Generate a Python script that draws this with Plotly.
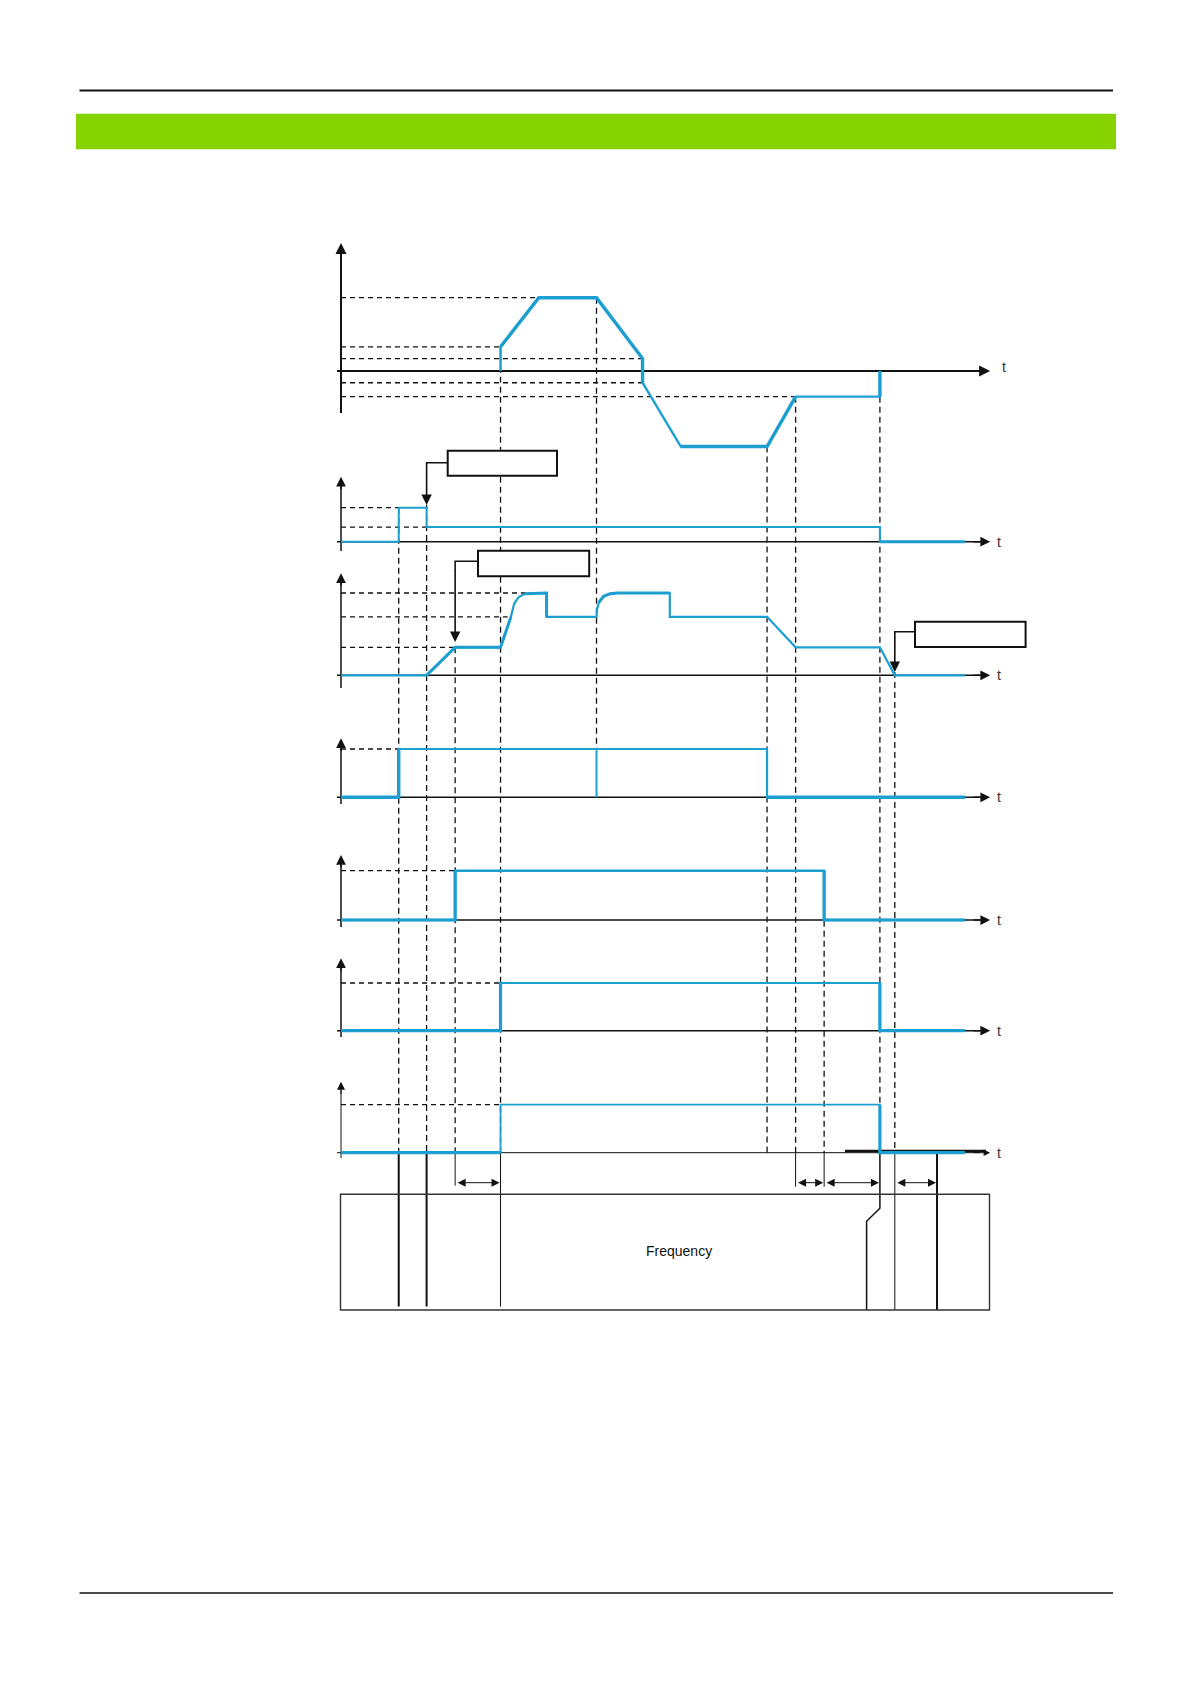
import plotly.graph_objects as go

W, H = 1190, 1684
BLUE = "#1c9fd0"
INK = "#111111"

# ---------------- event times (time units: 0 = vertical axes, 100 = arrow tip)
t1, t2, t3, t4 = 8.9, 13.2, 17.6, 24.6
t5, t6, t7, t8 = 39.4, 50.7, 65.7, 70.1
t9, t10, t11, t12 = 74.5, 83.1, 85.4, 91.9
t_end = 96.2

# ---------------- panel 1 : speed (positive / negative)
speed_t = [t4, t4, 30.5, t5, 46.5, 46.5, 52.4, t7, t8, t10, t10]
speed_v = [0, 33, 100, 100, 17, -16, -103, -103, -35, -35, 0]
speed_levels = [100, 33, 17, -16, -35]
speed_level_ends = [30.5, t4, 46.5, 46.5, t8]

# ---------------- panel 2
p2_t = [0, t1, t1, t2, t2, t10, t10, t_end]
p2_v = [0, 0, 100, 100, 43, 43, 0, 0]
p2_levels = [100, 43]
p2_level_ends = [t1, t2]

# ---------------- panel 3
p3_t = [0, t2, t3, t4, 26.2, 26.7, 27.4, 28.4, 30.2, 31.7, 31.7, t5,
        39.5, 39.8, 40.5, 41.5, 42.6, t6, t6, t7, t8, t10, t11, t_end]
p3_v = [0, 0, 34, 34, 71, 87, 95, 99, 100, 100, 71, 71,
        81, 89, 96, 99, 100, 100, 71, 71, 34, 34, 0, 0]
p3_levels = [100, 71, 34]
p3_level_ends = [29.1, 25.7, t3]

# ---------------- panels 4..7 (logic signals)
p4_t = [0, t1, t1, t7, t7, t_end]
p4_v = [0, 0, 100, 100, 0, 0]
p5_t = [0, t3, t3, t9, t9, t_end]
p5_v = [0, 0, 100, 100, 0, 0]
p6_t = [0, t4, t4, t10, t10, t_end]
p6_v = [0, 0, 100, 100, 0, 0]
p7_t = [0, t4, t4, t10, t10, t_end]
p7_v = [0, 0, 100, 100, 0, 0]
logic_level_ends = [t1, t3, t4, t4]

box_label = "Frequency"
axis_label = "t"

# ======================= layout geometry (page pixels) =======================
PX_PER_T = 6.485
X0 = 341.0
# baseline pixel, pixel height of level 100, y-axis top, y-axis bottom
PANELS = [
    (371.0, 73.3, 243.0, 413.0),
    (541.7, 34.0, 476.7, 551.0),
    (675.3, 82.3, 573.3, 688.0),
    (797.3, 48.3, 738.3, 804.0),
    (920.0, 49.3, 855.0, 927.0),
    (1030.7, 47.7, 958.3, 1037.0),
    (1152.7, 48.0, 1081.7, 1158.0),
]


def ypx(k, v):
    B, Hp = PANELS[k][0], PANELS[k][1]
    return B - v * Hp / 100.0


def tx(px):
    return (px - X0) / PX_PER_T


fig = go.Figure()

layout = dict(
    width=W, height=H, autosize=False,
    margin=dict(l=0, r=0, t=0, b=0),
    paper_bgcolor="white", plot_bgcolor="white",
    showlegend=False,
    xaxis=dict(range=[-X0 / PX_PER_T, (W - X0) / PX_PER_T], domain=[0, 1],
               visible=False, fixedrange=True),
    yaxis=dict(range=[H, 0], domain=[0, 1], visible=False, fixedrange=True),
)
for k, (B, Hp, _, _) in enumerate(PANELS):
    layout[f"yaxis{k + 2}"] = dict(
        range=[(B - H) * 100.0 / Hp, B * 100.0 / Hp], domain=[0, 1],
        overlaying="y", visible=False, fixedrange=True)
fig.update_layout(**layout)

DASH = "5px,4px"


def page_line(xs, ys, width=1.2, color=INK, dash=None):
    fig.add_trace(go.Scatter(x=xs, y=ys, yaxis="y", mode="lines",
                             line=dict(color=color, width=width, dash=dash),
                             hoverinfo="skip"))


def panel_line(k, xs, ys, width=2.5, color=BLUE, dash=None):
    fig.add_trace(go.Scatter(x=xs, y=ys, yaxis=f"y{k + 2}", mode="lines",
                             line=dict(color=color, width=width, dash=dash),
                             hoverinfo="skip"))


def signal(k, ts, vs, base_w, thick=(), thick_w=3.4):
    """Draw a signal; 'thick' lists (i, j) index slices drawn heavier."""
    panel_line(k, ts, vs, width=base_w)
    for i, j in thick:
        panel_line(k, ts[i:j], vs[i:j], width=thick_w)


annotations = []


def arrow(x, y, ax, ay, width=1.5, size=1.0, both=False, head=2):
    d = dict(x=x, y=y, ax=ax, ay=ay, xref="x", yref="y", axref="x", ayref="y",
             text="", showarrow=True, arrowhead=head, arrowsize=size,
             arrowwidth=width, arrowcolor=INK, standoff=0, startstandoff=0)
    if both:
        d.update(arrowside="end+start", startarrowhead=head, startarrowsize=size)
    annotations.append(d)


# ---------------- axes (lines as traces beneath the signals, heads as arrows)
for k, (B, Hp, ytop, ybot) in enumerate(PANELS):
    w = 2.0 if k == 0 else (1.0 if k == 6 else 1.5)
    page_line([tx(337.0), tx(980.0)], [B, B], width=w)
    arrow(100.1, B, tx(972.0), B, width=w, size=1.1 if k == 0 else 1.3)
    page_line([0, 0], [ybot, ytop + 8], width=w)
    arrow(0, ytop, 0, ytop + 14, width=w,
          size=1.1 if k == 0 else (1.6 if k == 6 else 1.3))
    annotations.append(dict(
        x=tx(1004.0 if k == 0 else 999.0), y=(B - 4.0 if k == 0 else B),
        xref="x", yref="y", text=axis_label, showarrow=False,
        font=dict(family="Liberation Sans, Arial", size=14, color="#333333")))

# heavy black segment lying on the last time axis
page_line([tx(845.0), tx(986.0)], [1151.0, 1151.0], width=2.6)

# ---------------- dashed horizontal levels (drawn on each panel scale)
level_sets = [
    (0, speed_levels, speed_level_ends),
    (1, p2_levels, p2_level_ends),
    (2, p3_levels, p3_level_ends),
]
for k, lv, ends in level_sets:
    for v, te in zip(lv, ends):
        panel_line(k, [0, te], [v, v], width=1.3, color=INK, dash=DASH)
for k, te in zip([3, 4, 5, 6], logic_level_ends):
    panel_line(k, [0, te], [100, 100], width=1.3, color=INK, dash=DASH)

# ---------------- vertical dashed guides
BASE7 = PANELS[6][0]
guides = [
    (t1, ypx(1, 100), BASE7),
    (t2, 505.0, BASE7),
    (t3, ypx(2, 34), BASE7),
    (t4, ypx(0, 33), BASE7),
    (t5, ypx(0, 100), ypx(3, 100)),
    (t7, ypx(0, -103), BASE7),
    (t8, ypx(0, -35), BASE7),
    (t9, ypx(4, 100), BASE7),
    (t10, ypx(0, -35), BASE7),
    (t11, 672.0, BASE7),
]
for t, ya, yb in guides:
    page_line([t, t], [ya, yb], width=1.3, dash="6px,4px")

# ---------------- signals (thin base + heavier segments as in the drawing)
signal(0, speed_t, speed_v, 2.4, thick=[(1, 6), (6, 9), (9, 11)])
signal(1, p2_t, p2_v, 2.0, thick=[(6, 8)], thick_w=3.0)
signal(2, p3_t, p3_v, 2.2, thick=[(1, 5), (7, 11), (13, 18)], thick_w=3.0)
signal(3, p4_t, p4_v, 2.2, thick=[(0, 3), (4, 6)])
panel_line(3, [t5, t5], [0, 100], width=2.0)
signal(4, p5_t, p5_v, 2.4, thick=[(0, 3), (3, 6)], thick_w=3.2)
signal(5, p6_t, p6_v, 2.0, thick=[(0, 3), (3, 6)], thick_w=3.2)
panel_line(5, p6_t[1:4], p6_v[1:4], width=2.0)
signal(6, p7_t, p7_v, 1.8, thick=[(0, 2), (3, 6)], thick_w=3.2)

# ---------------- callout boxes with their arrows
callouts = [
    # box x0,x1 (px), y0,y1 (px), connector y, arrow time, arrow tip y
    ((447.7, 557.0), (450.7, 475.7), 462.7, t2, 505.0),
    ((478.0, 589.2), (550.7, 576.3), 561.3, t3, 642.0),
    ((915.0, 1025.6), (621.7, 647.0), 631.7, t11, 672.0),
]
shapes = []
for (x0, x1), (y0, y1), yc, ta, tip in callouts:
    shapes.append(dict(type="rect", xref="x", yref="y", x0=tx(x0), x1=tx(x1),
                       y0=y0, y1=y1, line=dict(color=INK, width=2),
                       fillcolor="white", layer="above"))
    page_line([tx(x0), ta, ta], [yc, yc, yc + 10], width=1.6)
    arrow(ta, tip, ta, yc + 8, width=1.6, size=1.3)

# ---------------- bottom frequency box and its time marks
FB_TOP, FB_BOT = 1194.3, 1310.0
shapes.append(dict(type="rect", xref="x", yref="y", x0=tx(340.5), x1=tx(989.5),
                   y0=FB_TOP, y1=FB_BOT, line=dict(color="#333333", width=1.4),
                   fillcolor="rgba(0,0,0,0)"))
annotations.append(dict(x=tx(679.0), y=1250.5, xref="x", yref="y", text=box_label,
                        showarrow=False,
                        font=dict(family="Liberation Sans, Arial", size=14,
                                  color="#111111")))

DIM_Y = 1182.7
page_line([t1, t1], [BASE7, 1306.5], width=2.0)
page_line([t2, t2], [BASE7, 1306.5], width=2.0)
page_line([t3, t3], [BASE7, DIM_Y + 3], width=1.0)
page_line([t4, t4], [BASE7, 1306.5], width=1.0)
page_line([t8, t8], [BASE7, DIM_Y + 4], width=1.0)
page_line([t9, t9], [BASE7, DIM_Y + 4], width=1.0)
page_line([t10, t10, tx(866.6), tx(866.6)], [BASE7, 1208.3, 1221.3, FB_BOT], width=1.5)
page_line([t11, t11], [BASE7, FB_BOT], width=1.0)
page_line([t12, t12], [BASE7, FB_BOT], width=2.0)

for a, b in [(t3, t4), (t8, t9), (t9, t10), (t11, t12)]:
    arrow(b - 0.15, DIM_Y, a + 0.15, DIM_Y, width=1.0, size=1.6, both=True)

# ---------------- page header / footer
shapes.append(dict(type="line", xref="paper", yref="y", x0=79.5 / W, x1=1113 / W,
                   y0=90.5, y1=90.5, line=dict(color=INK, width=2)))
shapes.append(dict(type="rect", xref="paper", yref="y", x0=76 / W, x1=1116 / W,
                   y0=113.8, y1=149.3, line=dict(width=0), fillcolor="#86d300"))
shapes.append(dict(type="line", xref="paper", yref="y", x0=79.5 / W, x1=1113 / W,
                   y0=1593.0, y1=1593.0, line=dict(color=INK, width=1.5)))

fig.update_layout(shapes=shapes, annotations=annotations)

fig.write_html("out.html", include_plotlyjs=True, full_html=True,
               config={"displayModeBar": False, "staticPlot": True},
               post_script="document.body.style.margin='0';document.body.style.overflow='hidden';")
